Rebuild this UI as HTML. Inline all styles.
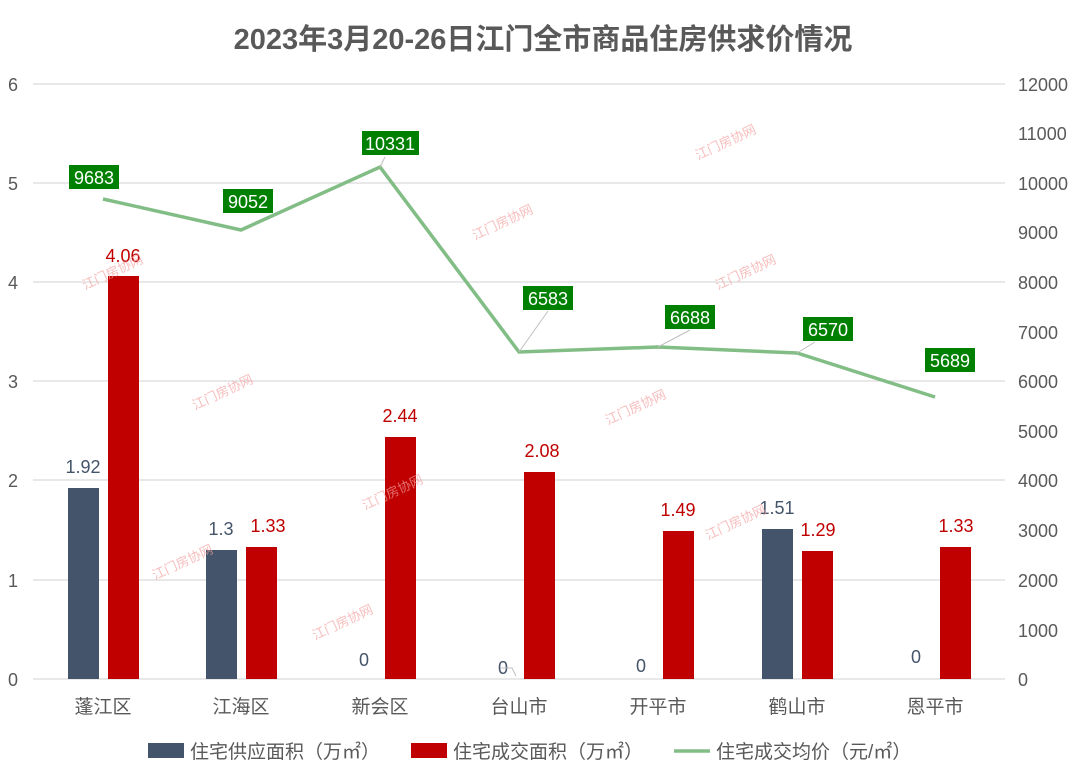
<!DOCTYPE html>
<html><head><meta charset="utf-8"><style>
body{margin:0;background:#fff;}
svg text{font-family:"Liberation Sans","Noto Sans CJK SC",sans-serif;}
</style></head><body>
<svg width="1080" height="779" viewBox="0 0 1080 779" xmlns="http://www.w3.org/2000/svg">
<rect width="1080" height="779" fill="#fff"/>
<text x="543" y="49" text-anchor="middle" font-size="29" font-weight="bold" fill="#595959">2023年3月20-26日江门全市商品住房供求价情况</text>
<g stroke="#d9d9d9" stroke-width="1.3">
<line x1="33" x2="1005" y1="679" y2="679"/><line x1="33" x2="1005" y1="580" y2="580"/>
<line x1="33" x2="1005" y1="480" y2="480"/><line x1="33" x2="1005" y1="381" y2="381"/>
<line x1="33" x2="1005" y1="282" y2="282"/><line x1="33" x2="1005" y1="183" y2="183"/>
<line x1="33" x2="1005" y1="84" y2="84"/>
</g>
<g font-size="18" fill="#595959" text-anchor="start">
<text x="8" y="686">0</text><text x="8" y="587">1</text><text x="8" y="487">2</text>
<text x="8" y="388">3</text><text x="8" y="289">4</text><text x="8" y="190">5</text><text x="8" y="91">6</text>
</g>
<g font-size="18" fill="#595959" text-anchor="start">
<text x="1018" y="686">0</text><text x="1018" y="637">1000</text><text x="1018" y="587">2000</text>
<text x="1018" y="537">3000</text><text x="1018" y="487">4000</text><text x="1018" y="438">5000</text>
<text x="1018" y="388">6000</text><text x="1018" y="339">7000</text><text x="1018" y="289">8000</text>
<text x="1018" y="239">9000</text><text x="1018" y="190">10000</text><text x="1018" y="140">11000</text><text x="1018" y="91">12000</text>
</g>
<g fill="#44546a">
<rect x="68" y="488" width="31" height="191"/>
<rect x="206" y="550" width="31" height="129"/>
<rect x="762" y="529" width="31" height="150"/>
</g>
<g fill="#c00000">
<rect x="108" y="276" width="31" height="403"/>
<rect x="246" y="547" width="31" height="132"/>
<rect x="385" y="437" width="31" height="242"/>
<rect x="524" y="472" width="31" height="207"/>
<rect x="663" y="531" width="31" height="148"/>
<rect x="802" y="551" width="31" height="128"/>
<rect x="940" y="547" width="31" height="132"/>
</g>
<g font-size="18" fill="#44546a" text-anchor="middle">
<text x="83" y="473">1.92</text><text x="221" y="535">1.3</text><text x="364" y="666">0</text>
<text x="503" y="674">0</text><text x="641" y="672">0</text><text x="777" y="514">1.51</text><text x="916" y="663">0</text>
</g>
<polyline points="500,668 512,668 516,676" fill="none" stroke="#bfbfbf"/>
<g font-size="18" fill="#c00000" text-anchor="middle">
<text x="123" y="262">4.06</text><text x="268" y="532">1.33</text><text x="400" y="422">2.44</text>
<text x="542" y="457">2.08</text><text x="678" y="516">1.49</text><text x="818" y="536">1.29</text><text x="956" y="532">1.33</text>
</g>
<polyline points="103,199 241,230 380,167 519,352 658,347 797,353 935,397" fill="none" stroke="#82bd86" stroke-width="3.5"/>
<g stroke="#bfbfbf" fill="none">
<line x1="519" y1="352" x2="548" y2="311"/>
<line x1="658" y1="347" x2="690" y2="330"/>
<line x1="797" y1="353" x2="815" y2="342"/>
<line x1="380" y1="167" x2="385" y2="157"/>
</g>
<g fill="#008000">
<rect x="69" y="165" width="50" height="24"/>
<rect x="223" y="189" width="50" height="24"/>
<rect x="362" y="131" width="57" height="24"/>
<rect x="523" y="286" width="50" height="24"/>
<rect x="665" y="305" width="50" height="24"/>
<rect x="803" y="317" width="50" height="24"/>
<rect x="925" y="348" width="50" height="24"/>
</g>
<g font-size="18" fill="#fff" text-anchor="middle">
<text x="94" y="184">9683</text><text x="248" y="208">9052</text><text x="390" y="150">10331</text>
<text x="548" y="305">6583</text><text x="690" y="324">6688</text><text x="828" y="336">6570</text><text x="950" y="367">5689</text>
</g>
<g font-size="19" fill="#595959" text-anchor="middle">
<text x="103" y="713">蓬江区</text><text x="241" y="713">江海区</text><text x="380" y="713">新会区</text>
<text x="519" y="713">台山市</text><text x="658" y="713">开平市</text><text x="797" y="713">鹤山市</text><text x="935" y="713">恩平市</text>
</g>
<g font-size="13" fill="#f4a0a0" opacity="0.7">
<text transform="translate(85,290) rotate(-25)">江门房协网</text>
<text transform="translate(195,410) rotate(-25)">江门房协网</text>
<text transform="translate(155,580) rotate(-25)">江门房协网</text>
<text transform="translate(315,640) rotate(-25)">江门房协网</text>
<text transform="translate(475,240) rotate(-25)">江门房协网</text>
<text transform="translate(365,510) rotate(-25)">江门房协网</text>
<text transform="translate(608,425) rotate(-25)">江门房协网</text>
<text transform="translate(698,160) rotate(-25)">江门房协网</text>
<text transform="translate(718,290) rotate(-25)">江门房协网</text>
<text transform="translate(708,540) rotate(-25)">江门房协网</text>
</g>
<rect x="148" y="743" width="36" height="15" fill="#44546a"/>
<text x="190" y="758" font-size="19" fill="#595959">住宅供应面积（万㎡）</text>
<rect x="411" y="743" width="36" height="15" fill="#c00000"/>
<text x="453" y="758" font-size="19" fill="#595959">住宅成交面积（万㎡）</text>
<line x1="674" y1="751" x2="710" y2="751" stroke="#82bd86" stroke-width="3.5"/>
<text x="716" y="758" font-size="19" fill="#595959">住宅成交均价（元/㎡）</text>
</svg>
</body></html>
